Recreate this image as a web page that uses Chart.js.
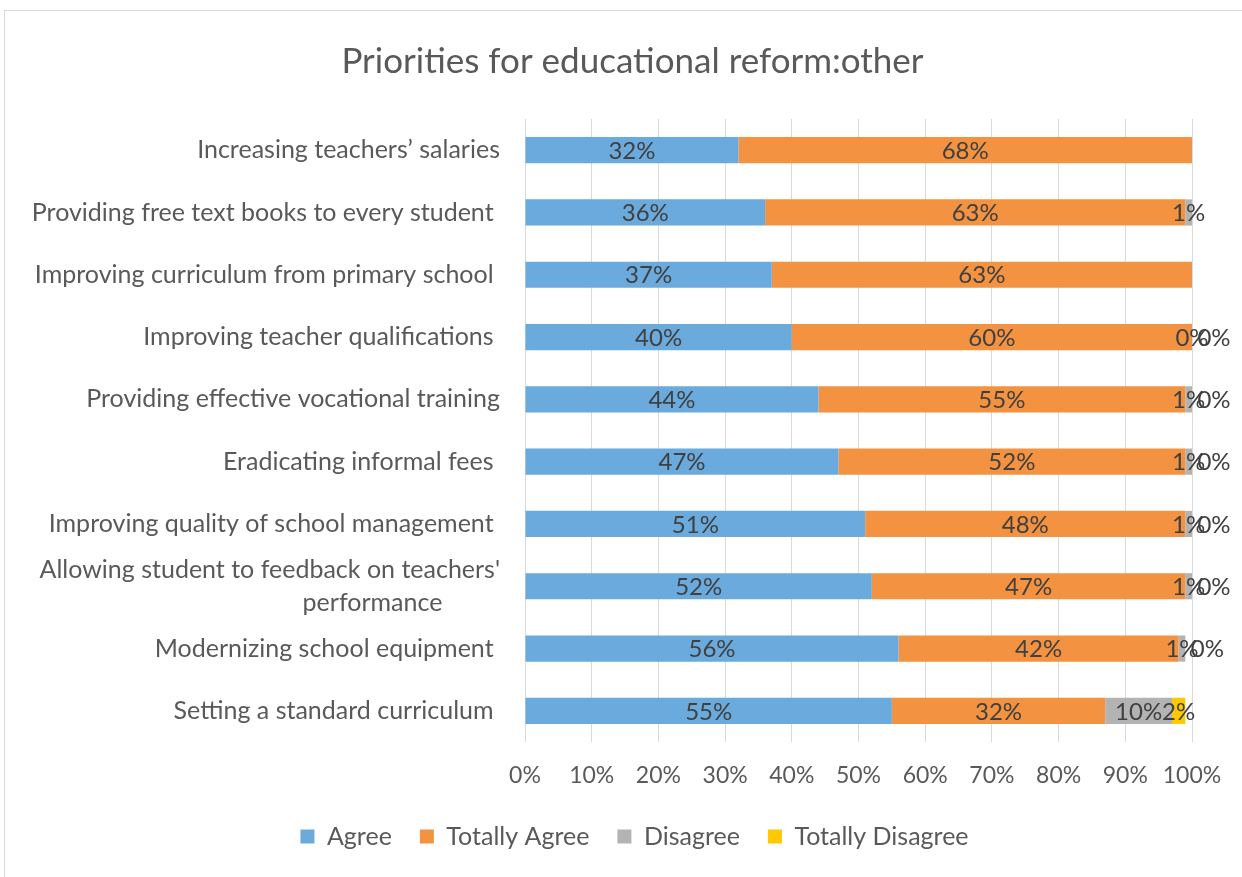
<!DOCTYPE html>
<html>
<head>
<meta charset="utf-8">
<script src="https://cdn.jsdelivr.net/npm/chart.js@4/dist/chart.umd.min.js"></script>
<style>
  body { margin: 0; background: #fff; }
  #box { position: absolute; left: 4px; top: 10px; width: 1240px; height: 868px; border: 1px solid #d9d9d9; }
</style>
</head>
<body>
<div id="box"><canvas id="c"></canvas></div>
<script>
const categories = [
  'Increasing teachers\u2019 salaries',
  'Providing free text books to every student ',
  'Improving curriculum from primary school ',
  'Improving teacher qualifications ',
  'Providing effective vocational training',
  'Eradicating informal fees ',
  'Improving quality of school management ',
  ["Allowing student to feedback on teachers'", 'performance         '],
  'Modernizing school equipment ',
  'Setting a standard curriculum '
];
const agree           = [32, 36, 37, 40, 44, 47, 51, 52, 56, 55];
const totallyAgree    = [68, 63, 63, 60, 55, 52, 48, 47, 42, 32];
const disagree        = [null, 1, null, 0, 1, 1, 1, 1, 1, 10];
const totallyDisagree = [null, null, null, 0, 0, 0, 0, 0, 0, 2];
const xTicks = [0, 10, 20, 30, 40, 50, 60, 70, 80, 90, 100];

const FONT = 'Lato, "Open Sans", sans-serif';
const TEXT = '#595959';

// labels drawn in the middle of each segment
const segLabels = {
  id: 'segLabels',
  afterDatasetsDraw(chart) {
    const ctx = chart.ctx;
    ctx.save();
    ctx.font = '24px ' + FONT;
    ctx.fillStyle = '#404040';
    ctx.textAlign = 'center';
    ctx.textBaseline = 'middle';
    chart.data.datasets.forEach((ds, i) => {
      chart.getDatasetMeta(i).data.forEach((bar, j) => {
        const v = ds.data[j];
        if (v === null || v === undefined) return;
        const p = bar.getCenterPoint();
        let x = p.x;
        if (i == 3 && v < 1) x += 22;
        ctx.fillText(Math.round(v) + '%', x, p.y + 1);
      });
    });
    ctx.restore();
  }
};

// title and legend sit a bit right of the canvas centre, like the original
const nudge = {
  id: 'nudge',
  afterLayout(chart) {
    if (chart.titleBlock) { chart.titleBlock.left += 34; chart.titleBlock.right += 34; }
    if (chart.legend) { chart.legend.left += 36; chart.legend.right += 36; }
  }
};

const data = {
  labels: categories,
  datasets: [
    { label: 'Agree', data: agree, backgroundColor: '#6aaadc' },
    { label: 'Totally Agree', data: totallyAgree, backgroundColor: '#f39241' },
    { label: 'Disagree', data: disagree, backgroundColor: '#b3b3b3' },
    { label: 'Totally Disagree', data: totallyDisagree, backgroundColor: '#ffc800' }
  ]
};

const config = {
  type: 'bar',
  data: data,
  plugins: [segLabels, nudge],
  options: {
    indexAxis: 'y',
    responsive: true,
    maintainAspectRatio: false,
    animation: false,
    datasets: { bar: { barPercentage: 0.6, categoryPercentage: 0.7 } },
    layout: { padding: { left: 0, right: 53, top: 0, bottom: 20 } },
    plugins: {
      title: {
        display: true,
        text: 'Priorities for educational reform:other',
        color: TEXT,
        font: { family: FONT, size: 35, weight: 'normal' },
        padding: { top: 30, bottom: 36 }
      },
      legend: {
        position: 'bottom',
        labels: {
          color: TEXT,
          font: { family: FONT, size: 25 },
          boxWidth: 14,
          boxHeight: 14,
          padding: 28
        }
      },
      tooltip: { enabled: false }
    },
    scales: {
      x: {
        stacked: true,
        min: 0,
        max: 100,
        grid: { color: '#d9d9d9', drawTicks: false },
        border: { display: false },
        afterBuildTicks: s => { s.ticks = xTicks.map(v => ({ value: v })); },
        afterFit: s => { s.height = 54; },
        ticks: {
          color: TEXT,
          font: { family: FONT, size: 23 },
          padding: 20,
          callback: v => v + '%'
        }
      },
      y: {
        stacked: true,
        grid: { display: false, drawTicks: false },
        border: { display: false },
        afterFit: s => { s.width = 520; },
        ticks: {
          color: TEXT,
          autoSkip: false,
          font: { family: FONT, size: 25, lineHeight: 1.3 },
          padding: 25
        }
      }
    }
  }
};

const chart = new Chart(document.getElementById('c'), config);
</script>
</body>
</html>
